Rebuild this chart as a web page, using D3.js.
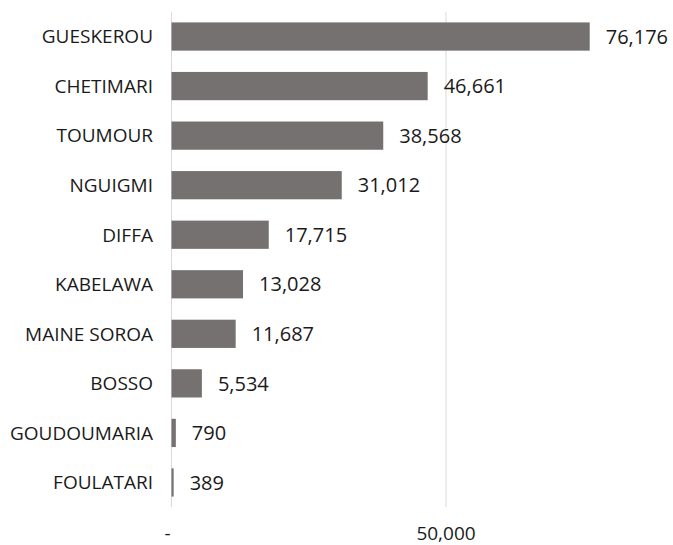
<!DOCTYPE html>
<html lang="en">
<head>
    <meta charset="UTF-8">
    <script src="https://d3js.org/d3.v7.min.js"></script>
    <style>
        body { margin: 0; background: #fff; }
        text { font-family: "Open Sans", "Liberation Sans", sans-serif; fill: #1a1a1a; }
    </style>
</head>
<body>
    <div id="chart"></div>
    <script>
        // data
        const communes = ["GUESKEROU", "CHETIMARI", "TOUMOUR", "NGUIGMI", "DIFFA", "KABELAWA", "MAINE SOROA", "BOSSO", "GOUDOUMARIA", "FOULATARI"];
        const values = [76176, 46661, 38568, 31012, 17715, 13028, 11687, 5534, 790, 389];
        const xTicks = [0, 50000];

        const W = 673, H = 545;
        const margin = {top: 12, right: 0, bottom: 38, left: 171.5};

        const svg = d3.select("#chart").append("svg")
            .attr("width", W)
            .attr("height", H);

        const x = d3.scaleLinear()
            .domain([0, 50000])
            .range([margin.left, 446]);

        const y = d3.scaleBand()
            .domain(communes)
            .range([margin.top, H - margin.bottom])
            .paddingInner(0.43)
            .paddingOuter(0.21);

        // gridlines
        svg.append("g")
            .selectAll("line")
            .data(xTicks)
            .join("line")
            .attr("x1", d => x(d)).attr("x2", d => x(d))
            .attr("y1", margin.top).attr("y2", H - margin.bottom)
            .attr("stroke", "#d9d9d9")
            .attr("stroke-width", 1);

        // bars
        svg.append("g")
            .selectAll("rect")
            .data(communes)
            .join("rect")
            .attr("x", x(0))
            .attr("y", d => y(d))
            .attr("width", (d, i) => Math.max(x(values[i]) - x(0), 1.5))
            .attr("height", y.bandwidth())
            .attr("fill", "#767171");

        // value labels
        svg.append("g")
            .selectAll("text")
            .data(communes)
            .join("text")
            .attr("x", (d, i) => x(values[i]) + 16)
            .attr("y", d => y(d) + y.bandwidth() / 2)
            .attr("dy", "0.36em")
            .style("font-size", "20px")
            .text((d, i) => d3.format(",")(values[i]));

        // category axis labels
        svg.append("g")
            .selectAll("text")
            .data(communes)
            .join("text")
            .attr("x", 153)
            .attr("y", d => y(d) + y.bandwidth() / 2)
            .attr("dy", "0.36em")
            .attr("text-anchor", "end")
            .style("font-size", "19px")
            .text(d => d);

        // x axis tick labels
        svg.append("g")
            .selectAll("text")
            .data(xTicks)
            .join("text")
            .attr("x", d => d === 0 ? x(d) - 4 : x(d))
            .attr("y", 533)
            .attr("dy", "0.36em")
            .attr("text-anchor", "middle")
            .style("font-size", "19px")
            .text(d => d === 0 ? "-" : d3.format(",")(d));
    </script>
</body>
</html>
